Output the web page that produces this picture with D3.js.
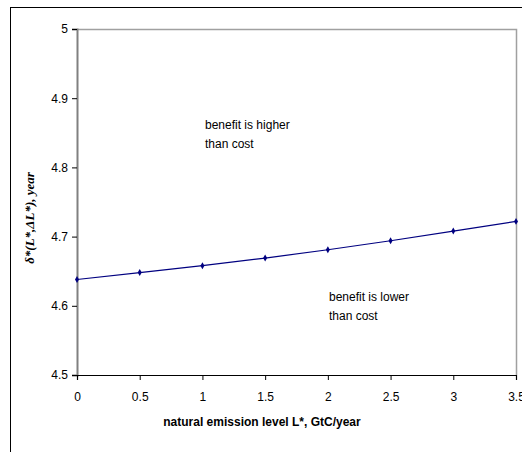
<!DOCTYPE html>
<html>
<head>
<meta charset="utf-8">
<script src="https://cdn.jsdelivr.net/npm/d3@7"></script>
<style>
  body { margin: 0; background: #fff; }
  svg { display: block; font-family: "Liberation Sans", Arial, sans-serif; }
</style>
</head>
<body>
<script>
// emission level L*, GtC/year
var emission = [0, 0.5, 1, 1.5, 2, 2.5, 3, 3.5];
// delta*(L*, dL*), year
var delta = [4.638, 4.648, 4.658, 4.669, 4.681, 4.694, 4.708, 4.722];
var xTicks = [0, 0.5, 1, 1.5, 2, 2.5, 3, 3.5];
var yTicks = [4.5, 4.6, 4.7, 4.8, 4.9, 5];

var width = 522, height = 452;
var plotLeft = 77, plotRight = 516, plotTop = 29, plotBottom = 375;
var narrow = "Liberation Sans Narrow, Liberation Sans, Arial, sans-serif";

var svg = d3.select("body").append("svg")
    .attr("width", width)
    .attr("height", height);

// outer chart frame, clipped by the window on the right and bottom
svg.append("rect")
    .attr("x", 10.5).attr("y", 7.5)
    .attr("width", 600).attr("height", 600)
    .attr("fill", "none")
    .attr("stroke", "#000")
    .attr("stroke-width", 1);

var x = d3.scaleLinear().domain([0, 3.5]).range([plotLeft, plotRight]);
var y = d3.scaleLinear().domain([4.5, 5]).range([plotBottom, plotTop]);

// plot area top and right edges
svg.append("path")
    .attr("d", "M" + plotLeft + "," + (plotTop + 0.5) + "H" + (plotRight + 0.5) + "V" + plotBottom)
    .attr("fill", "none")
    .attr("stroke", "#a0a0a0")
    .attr("stroke-width", 1.5);

// y axis
var yAxis = svg.append("g")
    .attr("transform", "translate(" + plotLeft + ",0)")
    .call(d3.axisLeft(y).tickValues(yTicks).tickSize(5).tickPadding(4)
        .tickFormat(function(d) { return String(+d.toFixed(1)); }));
yAxis.select(".domain").attr("stroke", "#808080").attr("stroke-width", 2);
yAxis.selectAll(".tick line").attr("stroke", "#000");
yAxis.selectAll("text").attr("font-size", 12).attr("fill", "#000")
    .attr("font-family", narrow);

// x axis
var xAxis = svg.append("g")
    .attr("transform", "translate(0," + plotBottom + ")")
    .call(d3.axisBottom(x).tickValues(xTicks).tickSize(5).tickPadding(12)
        .tickFormat(function(d) { return String(d); }));
xAxis.select(".domain").attr("stroke", "#000").attr("stroke-width", 1.2);
xAxis.selectAll(".tick line").attr("stroke", "#000");
xAxis.selectAll("text").attr("font-size", 12).attr("fill", "#000")
    .attr("font-family", narrow);

// data line
var pts = emission.map(function(d, i) { return [d, delta[i]]; });
svg.append("path")
    .datum(pts)
    .attr("fill", "none")
    .attr("stroke", "#000080")
    .attr("stroke-width", 1.2)
    .attr("d", d3.line().x(function(d) { return x(d[0]); }).y(function(d) { return y(d[1]); }));

svg.selectAll("path.mark")
    .data(pts)
    .enter().append("path")
    .attr("class", "mark")
    .attr("fill", "#000080")
    .attr("d", d3.symbol().type(d3.symbolDiamond).size(14))
    .attr("transform", function(d) { return "translate(" + x(d[0]) + "," + y(d[1]) + ")"; });

// annotations
function note(px, py, lines) {
    var t = svg.append("text")
        .attr("x", px).attr("y", py)
        .attr("font-size", 12)
        .attr("fill", "#000")
        .attr("font-family", narrow);
    lines.forEach(function(s, i) {
        t.append("tspan").attr("x", px).attr("dy", i ? 19 : 0).text(s);
    });
}
note(205, 129, ["benefit is higher", "than cost"]);
note(329, 301, ["benefit is lower", "than cost"]);

// axis titles
svg.append("text")
    .attr("x", 262).attr("y", 426)
    .attr("text-anchor", "middle")
    .attr("font-size", 12)
    .attr("font-weight", "bold")
    .attr("font-family", narrow)
    .text("natural emission level L*, GtC/year");

svg.append("text")
    .attr("transform", "translate(34,218) rotate(-90)")
    .attr("text-anchor", "middle")
    .attr("font-size", 13)
    .attr("font-weight", "bold")
    .attr("font-style", "italic")
    .attr("font-family", "Liberation Serif, Times New Roman, serif")
    .text("\u03B4*(L*,\u0394L*),  year");
</script>
</body>
</html>
